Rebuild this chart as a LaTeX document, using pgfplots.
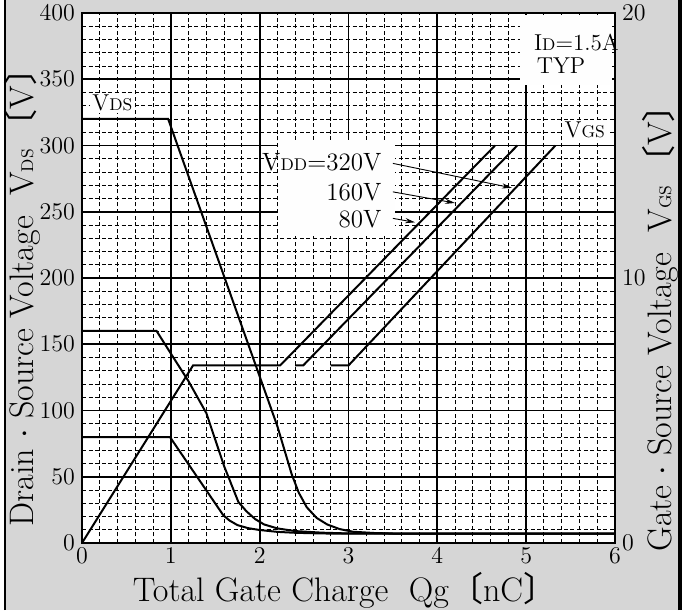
\documentclass[border=0pt]{standalone}
\usepackage{fontspec}
\usepackage{pgfplots}
\pgfplotsset{compat=1.18}
\usetikzlibrary{arrows.meta}
\newfontfamily\cjk{Noto Sans CJK JP}
\definecolor{bggray}{gray}{0.84}
\definecolor{boxw}{rgb}{0.998,0.998,0.998}
\newcommand{\sub}[1]{{\fontsize{8.5}{9}\selectfont #1}}

\begin{document}
\begin{tikzpicture}
% page background and side rules
\fill[bggray] (-38pt,-33.5pt) rectangle (298pt,271.5pt);
\draw[line width=0.7pt] (-38.4pt,-33.5pt) -- (-38.4pt,271.5pt);
\draw[line width=2pt] (299pt,-33.5pt) -- (299pt,271.5pt);

% left axis: V_DS
\begin{axis}[
    scale only axis,
    width=266.5pt, height=265pt,
    xmin=0, xmax=6, ymin=0, ymax=400,
    xtick={0,1,...,6}, ytick={0,50,...,400},
    minor x tick num=4, minor y tick num=4,
    grid=both,
    major grid style={black, line width=0.95pt},
    minor grid style={black, line width=0.45pt, dash pattern=on 2pt off 1.3pt},
    tick style={draw=none},
    axis line style={line width=1.3pt},
    axis background/.style={fill=white},
    ticklabel style={font=\fontsize{11.5}{12}\selectfont},
    xticklabel style={yshift=1pt},
]
\addplot[black, line width=1pt] coordinates {
    (0,320) (0.97,320) (2.20,88) (2.28,70) (2.36,52) (2.44,38) (2.53,27)
    (2.64,19) (2.76,14) (2.90,10.5) (3.05,8.5) (3.30,7.5) (3.60,7) (6,7)
};
\addplot[black, line width=1pt] coordinates {
    (0,160) (0.84,160) (1.0,143) (1.2,122) (1.4,98) (1.6,58) (1.76,31)
    (1.85,24) (1.95,18) (2.05,14) (2.2,11) (2.4,9) (2.7,7.8) (3.0,7.2) (6,7)
};
\addplot[black, line width=1pt] coordinates {
    (0,80) (0.99,80) (1.59,21) (1.66,17) (1.75,13.5) (1.87,11.2) (2.0,9.8)
    (2.2,8.4) (2.4,7.7) (2.7,7.2) (3.0,7) (6,7)
};
% anchor points for the annotations drawn after the axes
\coordinate (idA) at (axis cs:4.93,346);
\coordinate (idB) at (axis cs:5.97,398.5);
\coordinate (vdA) at (axis cs:2.21,232);
\coordinate (vdB) at (axis cs:3.52,304);
\coordinate (lVDS) at (axis cs:0.09,332);
\coordinate (lVGS) at (axis cs:5.66,312);
\coordinate (lID) at (axis cs:5.01,378);
\coordinate (lTYP) at (axis cs:5.04,360);
\coordinate (l320) at (axis cs:3.45,287);
\coordinate (l160) at (axis cs:3.45,265);
\coordinate (l80) at (axis cs:3.45,244);
\coordinate (a1s) at (axis cs:3.50,286.5);
\coordinate (a1e) at (axis cs:4.84,268);
\coordinate (a2s) at (axis cs:3.50,265);
\coordinate (a2e) at (axis cs:4.20,256.6);
\coordinate (a3s) at (axis cs:3.50,245);
\coordinate (a3e) at (axis cs:3.75,242);
\end{axis}

% annotation boxes over the grid
\fill[boxw] (idA) rectangle (idB);
\fill[boxw] (vdA) rectangle (vdB);

% right axis: V_GS
\begin{axis}[
    scale only axis,
    width=266.5pt, height=265pt,
    xmin=0, xmax=6, ymin=0, ymax=20,
    axis x line=none,
    axis y line*=right,
    ytick={0,10,20},
    tick style={draw=none},
    axis line style={line width=1.3pt},
    ticklabel style={font=\fontsize{11.5}{12}\selectfont},
]
\addplot[black, line width=1pt] coordinates {
    (0,0) (1.25,6.7) (2.23,6.7) (4.65,15)
};
\addplot[black, line width=1pt] coordinates {
    (2.40,6.7) (2.49,6.7) (4.90,15)
};
\addplot[black, line width=1pt] coordinates {
    (2.80,6.7) (3.00,6.7) (5.33,15)
};
\end{axis}

\node[anchor=west, fill=boxw, inner sep=1pt, font=\fontsize{11.5}{12}\selectfont]
    at (lVDS) {V\sub{DS}};
\node[fill=boxw, inner sep=1pt, font=\fontsize{11.5}{12}\selectfont]
    at (lVGS) {V\sub{GS}};
\node[anchor=west, font=\fontsize{11.5}{12}\selectfont] at (lID) {I\sub{D}=1.5A};
\node[anchor=west, font=\fontsize{11.5}{12}\selectfont] at (lTYP) {TYP};
\node[anchor=east, font=\fontsize{12.5}{13}\selectfont] at (l320) {V\sub{DD}=320V};
\node[anchor=east, font=\fontsize{12.5}{13}\selectfont] at (l160) {160V};
\node[anchor=east, font=\fontsize{12.5}{13}\selectfont] at (l80) {80V};
\draw[-{Stealth[length=5pt,width=2.6pt]}, line width=0.45pt] (a1s) -- (a1e);
\draw[-{Stealth[length=5pt,width=2.6pt]}, line width=0.45pt] (a2s) -- (a2e);
\draw[-{Stealth[length=5pt,width=2.6pt]}, line width=0.45pt] (a3s) -- (a3e);

% axis titles
\node[rotate=90, font=\fontsize{17}{18}\selectfont] at (-30pt,127pt)
    {Drain $\cdot$ Source Voltage\ \ V\sub{DS}\,{\cjk 〔}V{\cjk 〕}};
\node[rotate=90, font=\fontsize{17}{18}\selectfont] at (289pt,111.5pt)
    {Gate $\cdot$ Source Voltage\ \ V\sub{GS}\,{\cjk 〔}V{\cjk 〕}};
\node[font=\fontsize{17}{18}\selectfont] at (131.5pt,-23.5pt)
    {Total Gate Charge\ \ Qg{\cjk 〔}nC{\cjk 〕}};

\pgfresetboundingbox
\path[use as bounding box] (-41pt,-33.5pt) rectangle (304pt,271.5pt);
\end{tikzpicture}
\end{document}
